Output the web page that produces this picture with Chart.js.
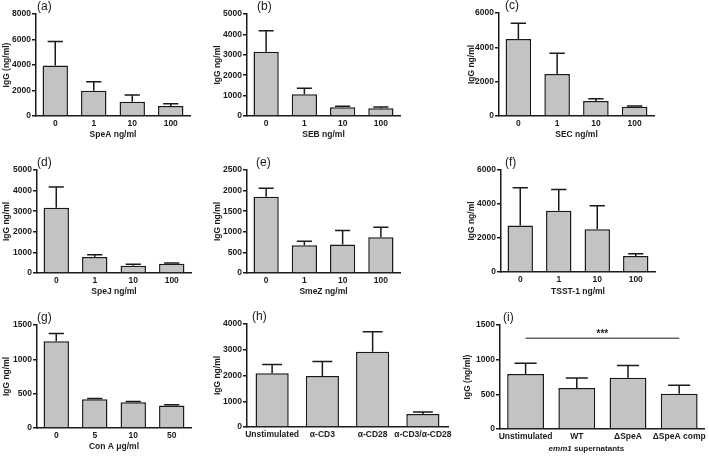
<!DOCTYPE html>
<html>
<head>
<meta charset="utf-8">
<script src="https://cdn.jsdelivr.net/npm/chart.js@4.4.1/dist/chart.umd.min.js"></script>
<style>
  body { margin: 0; background: #fff; width: 709px; height: 456px; position: relative; overflow: hidden; }
  .panel { position: absolute; }
</style>
</head>
<body>
<script>
// ---- values (mean and SD, IgG ng/ml) ----
const toxinDoses = ['0', '1', '10', '100'];
const conADoses = ['0', '5', '10', '50'];
const antibodyGroups = ['Unstimulated', '\u03b1-CD3', '\u03b1-CD28', '\u03b1-CD3/\u03b1-CD28'];
const supernatantGroups = ['Unstimulated', 'WT', '\u0394SpeA', '\u0394SpeA comp'];

const speaMean = [3970, 1990, 1120, 785];
const speaSd = [1880, 700, 525, 180];
const sebMean = [3150, 1065, 425, 380];
const sebSd = [1030, 290, 50, 60];
const secMean = [4490, 2440, 880, 545];
const secSd = [920, 1210, 130, 40];
const spejMean = [3165, 780, 355, 455];
const spejSd = [1005, 110, 65, 32];
const smezMean = [1850, 675, 690, 870];
const smezSd = [205, 95, 340, 240];
const tsstMean = [2735, 3600, 2520, 945];
const tsstSd = [2220, 1260, 1375, 135];
const conAMean = [1265, 418, 375, 326];
const conASd = [113, 10, 10, 14];
const antibodyMean = [2090, 1985, 2920, 505];
const antibodySd = [340, 560, 780, 80];
const supernatantMean = [795, 590, 740, 510];
const supernatantSd = [155, 145, 175, 120];

// y axis ranges: [max, step]
const yRangeA = [8000, 2000];
const yRangeB = [5000, 1000];
const yRangeC = [6000, 2000];
const yRangeD = [5000, 1000];
const yRangeE = [2500, 500];
const yRangeF = [6000, 2000];
const yRangeG = [1500, 500];
const yRangeH = [4000, 1000];
const yRangeI = [1500, 500];

// significance bracket in (i): from group, to group, level, label
const sigFrom = 0;
const sigTo = 3;
const sigLevel = 1310;
const sigText = '***';

const INK = '#1a1a1a';
const BAR_FILL = '#c3c3c3';
const FONT = "'Liberation Sans', Arial, sans-serif";

Chart.defaults.font.family = FONT;
Chart.defaults.color = INK;

// error bars (mean + SD, upper only, with cap)
const errorBars = {
  id: 'errorBars',
  afterDatasetsDraw(chart, args, opts) {
    const ctx = chart.ctx;
    const meta = chart.getDatasetMeta(0);
    const y = chart.scales.y;
    const values = chart.data.datasets[0].data;
    ctx.save();
    ctx.strokeStyle = INK;
    ctx.lineWidth = 1.5;
    meta.data.forEach((bar, i) => {
      const top = y.getPixelForValue(values[i] + opts.sd[i]);
      const half = bar.width * 0.3;
      ctx.beginPath();
      ctx.moveTo(bar.x, bar.y);
      ctx.lineTo(bar.x, top);
      ctx.moveTo(bar.x - half, top);
      ctx.lineTo(bar.x + half, top);
      ctx.stroke();
    });
    ctx.restore();
  }
};

// panel letter like "(a)"
const panelTag = {
  id: 'panelTag',
  afterDraw(chart, args, opts) {
    const ctx = chart.ctx;
    ctx.save();
    ctx.fillStyle = INK;
    ctx.font = '12px ' + FONT;
    ctx.textBaseline = 'alphabetic';
    ctx.textAlign = 'left';
    ctx.fillText(opts.text, chart.chartArea.left + opts.dx, chart.chartArea.top - 4);
    ctx.restore();
  }
};

// significance line for (i)
const sigBar = {
  id: 'sigBar',
  afterDraw(chart, args, opts) {
    if (!opts.show) return;
    const ctx = chart.ctx;
    const x = chart.scales.x, y = chart.scales.y;
    const x1 = x.getPixelForValue(sigFrom), x2 = x.getPixelForValue(sigTo);
    const yy = y.getPixelForValue(sigLevel);
    ctx.save();
    ctx.strokeStyle = INK;
    ctx.lineWidth = 1;
    ctx.beginPath();
    ctx.moveTo(x1, yy);
    ctx.lineTo(x2, yy);
    ctx.stroke();
    ctx.fillStyle = INK;
    ctx.font = 'bold 10px ' + FONT;
    ctx.textAlign = 'center';
    ctx.textBaseline = 'alphabetic';
    ctx.fillText(sigText, (x1 + x2) / 2, yy - 1);
    ctx.restore();
  }
};

// x title of (i) with italic "emm1"
const mixedTitle = {
  id: 'mixedTitle',
  afterDraw(chart, args, opts) {
    if (!opts.show) return;
    const ctx = chart.ctx;
    const ca = chart.chartArea;
    const cx = (ca.left + ca.right) / 2 - 16;
    const yy = ca.bottom + 20;
    ctx.save();
    ctx.fillStyle = INK;
    ctx.textBaseline = 'middle';
    ctx.textAlign = 'left';
    const f1 = 'italic bold 8px ' + FONT, f2 = 'bold 8px ' + FONT;
    ctx.font = f1;
    const w1 = ctx.measureText('emm1').width;
    ctx.font = f2;
    const w2 = ctx.measureText(' supernatants').width;
    const x0 = cx - (w1 + w2) / 2;
    ctx.font = f1;
    ctx.fillText('emm1', x0, yy);
    ctx.font = f2;
    ctx.fillText(' supernatants', x0 + w1, yy);
    ctx.restore();
  }
};

// layout: canvas box [x0,y0,x1,y1], plot area [left,top,right,bottom]
const panels = [
  { tag: '(a)', dx: 1, labels: toxinDoses, mean: speaMean, sd: speaSd, range: yRangeA, yTitle: 'IgG (ng/ml)', xTitle: 'SpeA ng/ml', box: [0, 0, 200, 140], plot: [36, 14, 190, 116], bar: 0.66 },
  { tag: '(b)', dx: 10, labels: toxinDoses, mean: sebMean, sd: sebSd, range: yRangeB, yTitle: 'IgG ng/ml', xTitle: 'SEB ng/ml', box: [211, 0, 410, 140], plot: [247, 14, 400, 116], bar: 0.66 },
  { tag: '(c)', dx: 6, labels: toxinDoses, mean: secMean, sd: secSd, range: yRangeC, yTitle: 'IgG ng/ml', xTitle: 'SEC ng/ml', box: [465, 0, 664, 140], plot: [499, 13, 654, 116], bar: 0.66 },
  { tag: '(d)', dx: 0, labels: toxinDoses, mean: spejMean, sd: spejSd, range: yRangeD, yTitle: 'IgG ng/ml', xTitle: 'SpeJ ng/ml', box: [0, 145, 200, 297], plot: [37, 170, 191, 273], bar: 0.66 },
  { tag: '(e)', dx: 9, labels: toxinDoses, mean: smezMean, sd: smezSd, range: yRangeE, yTitle: 'IgG ng/ml', xTitle: 'SmeZ ng/ml', box: [211, 145, 410, 297], plot: [247, 170, 400, 273], bar: 0.66 },
  { tag: '(f)', dx: 4, labels: toxinDoses, mean: tsstMean, sd: tsstSd, range: yRangeF, yTitle: 'IgG ng/ml', xTitle: 'TSST-1 ng/ml', box: [465, 145, 664, 297], plot: [501, 170, 655, 272], bar: 0.66 },
  { tag: '(g)', dx: 0, labels: conADoses, mean: conAMean, sd: conASd, range: yRangeG, yTitle: 'IgG ng/ml', xTitle: 'Con A \u03bcg/ml', box: [0, 300, 200, 452], plot: [37, 325, 191, 428], bar: 0.66 },
  { tag: '(h)', dx: 5, labels: antibodyGroups, mean: antibodyMean, sd: antibodySd, range: yRangeH, yTitle: 'IgG ng/ml', xTitle: '', box: [211, 300, 462, 452], plot: [247, 324, 448, 427], bar: 0.66 },
  { tag: '(i)', dx: 3, labels: supernatantGroups, mean: supernatantMean, sd: supernatantSd, range: yRangeI, yTitle: 'IgG (ng/ml)', xTitle: '', box: [461, 300, 709, 455], plot: [500, 325, 706, 429], bar: 0.72, sig: true, mixed: true }
];

panels.forEach(p => {
  const [x0, y0, x1, y1] = p.box;
  const [left, top, right, bottom] = p.plot;
  const div = document.createElement('div');
  div.className = 'panel';
  div.style.left = x0 + 'px';
  div.style.top = y0 + 'px';
  const canvas = document.createElement('canvas');
  canvas.width = x1 - x0;
  canvas.height = y1 - y0;
  canvas.style.width = (x1 - x0) + 'px';
  canvas.style.height = (y1 - y0) + 'px';
  div.appendChild(canvas);
  document.body.appendChild(div);

  new Chart(canvas, {
    type: 'bar',
    data: {
      labels: p.labels,
      datasets: [{
        data: p.mean,
        backgroundColor: BAR_FILL,
        borderColor: INK,
        borderWidth: 1.5,
        borderSkipped: 'bottom',
        barPercentage: p.bar,
        categoryPercentage: 1
      }]
    },
    options: {
      responsive: false,
      animation: false,
      layout: { padding: { left: 0, top: top - y0, right: x1 - right, bottom: 0 } },
      plugins: {
        legend: { display: false },
        tooltip: { enabled: false },
        errorBars: { sd: p.sd },
        panelTag: { text: p.tag, dx: p.dx },
        sigBar: { show: !!p.sig },
        mixedTitle: { show: !!p.mixed }
      },
      scales: {
        x: {
          offset: true,
          grid: { display: false, drawTicks: false, tickLength: 0 },
          border: { display: true, color: INK, width: 1.5 },
          ticks: { padding: 3, maxRotation: 0, autoSkip: false, font: { size: 8.5, weight: 'bold' }, color: INK },
          title: { display: !!p.xTitle, text: p.xTitle, font: { size: 8.5, weight: 'bold' }, color: INK, padding: { top: 0, bottom: 0 } },
          afterFit: s => { s.height = y1 - bottom; }
        },
        y: {
          min: 0,
          max: p.range[0],
          grid: { display: true, drawOnChartArea: false, drawTicks: true, tickLength: 4, color: INK, lineWidth: 1.5 },
          border: { display: true, color: INK, width: 1.5 },
          ticks: { stepSize: p.range[1], padding: 1, font: { size: 8.5, weight: 'bold' }, color: INK, callback: v => String(v) },
          title: { display: true, text: p.yTitle, font: { size: 8.5, weight: 'bold' }, color: INK, padding: { top: 1.5, bottom: 0 } },
          afterFit: s => { s.width = left - x0; }
        }
      }
    },
    plugins: [errorBars, panelTag, sigBar, mixedTitle]
  });
});
</script>
</body>
</html>
